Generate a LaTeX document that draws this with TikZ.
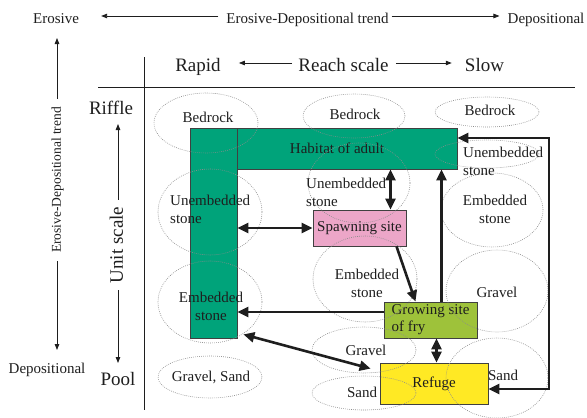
\documentclass[tikz,border=0pt]{standalone}
\usepackage{fontspec}
\setmainfont{Liberation Serif}
\usetikzlibrary{arrows.meta,calc,shapes.geometric}
\definecolor{adultgreen}{RGB}{0,163,122}
\definecolor{spawnpink}{RGB}{236,166,200}
\definecolor{fryolive}{RGB}{158,194,58}
\definecolor{refugeyellow}{RGB}{255,233,36}
\definecolor{ink}{RGB}{30,30,30}
\definecolor{dotgray}{RGB}{140,140,140}
\tikzset{
  txt/.style={inner sep=0pt, font=\fontsize{15}{18}\selectfont, text=ink,
    text height=10.5pt, text depth=3pt},
  mtxt/.style={inner sep=0pt, font=\fontsize{15}{18}\selectfont, text=ink},
  bigtxt/.style={inner sep=0pt, font=\fontsize{19}{22}\selectfont, text=ink,
    text height=13.5pt, text depth=4pt},
  zone/.style={draw=dotgray, dash pattern=on 0.8pt off 1.2pt, line width=0.6pt,
    ellipse, inner sep=0pt},
  box/.style={draw=ink!85, line width=0.8pt, inner sep=0pt,
    font=\fontsize{15}{17}\selectfont, text=ink},
  link/.style={draw=ink, line width=2.6pt, -{Triangle[length=11pt,width=10pt]}},
  dlink/.style={link, {Triangle[length=11pt,width=10pt]}-{Triangle[length=11pt,width=10pt]}},
  axis/.style={draw=ink, line width=0.8pt, -{Triangle[length=6pt,width=4.5pt]}},
}
\begin{document}
\begin{tikzpicture}[x=1pt,y=-1pt]
\useasboundingbox (0,0) rectangle (587,418);

% ---- overall erosive/depositional trend ----
\node[txt] (erosive) at (56,20) {Erosive};
\node[txt] (edtrend) at (307.5,20) {Erosive-Depositional trend};
\node[txt] (deptop) at (546,20) {Depositional};
\draw[axis] ($(edtrend.west)+(-8,-4)$) -- ($(erosive.east)+(22,-4)$);
\draw[axis] ($(edtrend.east)+(3,-4)$) -- ($(deptop.west)+(-8,-4)$);

\node[txt, rotate=90, font=\fontsize{13.5}{16}\selectfont] (edside) at (57,180) {Erosive-Depositional trend};
\node[txt] (depside) at (47,370) {Depositional};
\coordinate (edup) at (57,38);
\coordinate (eddown) at (57,350);
\draw[axis] ($(edside.east)+(0,-8)$) -- (edup);
\draw[axis] ($(edside.west)+(0,8)$) -- (eddown);

% ---- reach scale ----
\node[bigtxt] (rapid) at (198,67) {Rapid};
\node[bigtxt] (reach) at (343.5,67) {Reach scale};
\node[bigtxt] (slow) at (484.5,67) {Slow};
\draw[axis] ($(reach.west)+(-6,-4)$) -- ($(rapid.east)+(18,-4)$);
\draw[axis] ($(reach.east)+(7,-4)$) -- ($(slow.west)+(-13,-4)$);

% ---- unit scale ----
\node[bigtxt] (riffle) at (111,110) {Riffle};
\node[bigtxt] (pool) at (118,381) {Pool};
\node[bigtxt, rotate=90] (unit) at (118,245) {Unit scale};
\coordinate (unitup) at (118,124);
\coordinate (unitdown) at (118,363);
\draw[axis] ($(unit.east)+(0,-7)$) -- (unitup);
\draw[axis] ($(unit.west)+(0,7)$) -- (unitdown);

% ---- frame ----
\draw[ink, line width=0.9pt] (98,87) -- (575,87);
\draw[ink, line width=0.9pt] (144,57) -- (144,410);

% ---- habitat boxes ----
\node[box, fill=adultgreen, minimum width=47pt, minimum height=210pt] (vbar) at (213.5,233) {};
\node[box, fill=adultgreen, minimum width=220pt, minimum height=41pt] (hbar) at (347,148.5) {};
\node[txt] (adulttxt) at (337,150) {Habitat of adult};
\node[box, fill=spawnpink, minimum width=93pt, minimum height=36pt] (spawn) at (359.5,228) {Spawning site};
\node[box, fill=fryolive, minimum width=93pt, minimum height=36pt, align=left] (grow) at (430.5,320) {Growing site\\of fry};
\node[box, fill=refugeyellow, minimum width=108pt, minimum height=41pt] (refuge) at (434,383.5) {Refuge};

% ---- substrate zones ----
\node[zone, minimum width=104pt, minimum height=60pt] (zbedl) at (206,123) {};
\node[zone, minimum width=102pt, minimum height=44pt] (zbedm) at (354,116) {};
\node[zone, minimum width=104pt, minimum height=30pt] (zbedr) at (487,112) {};
\node[zone, minimum width=104pt, minimum height=28pt] (zunr) at (487,154) {};
\node[zone, minimum width=102pt, minimum height=80pt] (zunm) at (359,183) {};
\node[zone, minimum width=104pt, minimum height=86pt] (zunl) at (210,212) {};
\node[zone, minimum width=102pt, minimum height=74pt] (zemr) at (492,210) {};
\node[zone, minimum width=104pt, minimum height=86pt] (zemm) at (365,279) {};
\node[zone, minimum width=104pt, minimum height=82pt] (zeml) at (210,302) {};
\node[zone, minimum width=102pt, minimum height=82pt] (zgrr) at (497,291) {};
\node[zone, minimum width=104pt, minimum height=46pt] (zgrm) at (364,350) {};
\node[zone, minimum width=104pt, minimum height=42pt] (zgsl) at (210,377) {};
\node[zone, minimum width=104pt, minimum height=34pt] (zsam) at (364,393) {};
\node[zone, minimum width=102pt, minimum height=80pt] (zsar) at (497,378) {};

\node[txt] (tbedl) at (208,119) {Bedrock};
\node[txt] (tbedm) at (355,116) {Bedrock};
\node[txt] (tbedr) at (490,112) {Bedrock};
\node[mtxt, anchor=west, align=left] (tunr) at (463,161) {Unembedded\\stone};
\node[mtxt, anchor=west, align=left] (tunm) at (306,192) {Unembedded\\stone};
\node[mtxt, anchor=west, align=left] (tunl) at (170,209) {Unembedded\\stone};
\node[mtxt, align=center] (temr) at (495,209) {Embedded\\stone};
\node[mtxt, align=center] (temm) at (367,283) {Embedded\\stone};
\node[mtxt, align=center] (teml) at (211,306) {Embedded\\stone};
\node[txt] (tgrr) at (497,294) {Gravel};
\node[txt] (tgrm) at (366,352) {Gravel};
\node[txt] (tgsl) at (211,378) {Gravel, Sand};
\node[txt] (tsam) at (362,394) {Sand};
\node[txt] (tsar) at (503,377) {Sand};

% ---- life-stage links ----
\draw[dlink] (vbar.east |- spawn.west) -- (spawn.west);
\coordinate (s2) at ($(spawn.north)+(31,0)$);
\draw[dlink] (s2) -- (s2 |- hbar.south);
\draw[link] ($(spawn.south)+(37,0)$) -- ($(grow.north)+(-15,0)$);
\coordinate (g4) at ($(grow.north)+(11,0)$);
\draw[link] (g4) -- (g4 |- hbar.south);
\coordinate (g5) at ($(grow.west)+(0,-8)$);
\draw[link] (g5) -- (g5 -| vbar.east);
\draw[dlink] ($(vbar.south east)+(6,-4)$) -- ($(refuge.north west)+(-9,6)$);
\coordinate (g7) at ($(grow.south)+(6,0)$);
\draw[dlink] (g7) -- (g7 |- refuge.north);
\coordinate (r8) at ($(refuge.east)+(0,5.5)$);
\coordinate (h8) at ($(hbar.east)+(0,-10.5)$);
\coordinate (rail) at (549,260);
\draw[dlink] (r8) -| (rail) |- (h8);
\end{tikzpicture}
\end{document}
